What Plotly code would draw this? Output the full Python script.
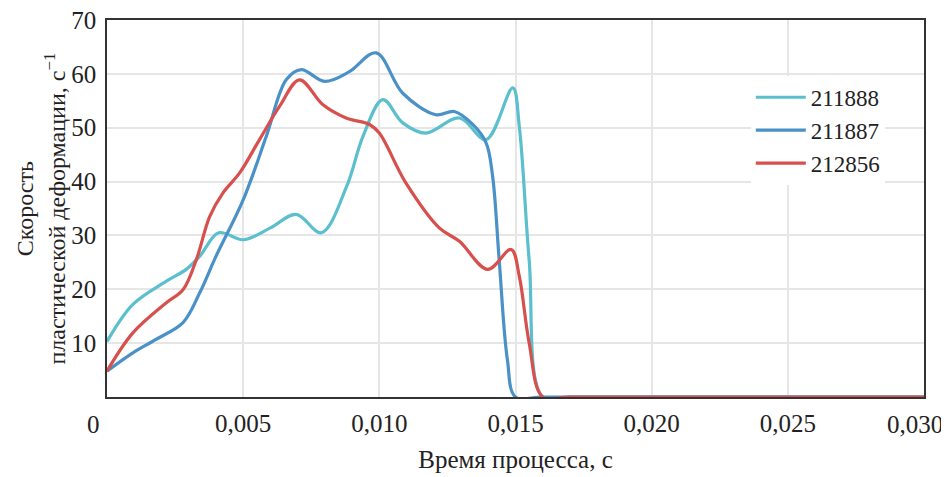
import plotly.graph_objects as go

# time, s
t_211888 = [0.0, 0.00095, 0.00218, 0.00291, 0.0034, 0.0041, 0.0050, 0.0060, 0.00695, 0.00787,
            0.0088, 0.0094, 0.01013, 0.01086, 0.0117, 0.01294, 0.01392, 0.0149, 0.01514, 0.0155,
            0.0160, 0.0170, 0.0300]
v_211888 = [10.3, 17.2, 21.5, 23.7, 26.1, 30.5, 29.2, 31.4, 33.9, 30.5,
            39.1, 48.4, 55.2, 50.9, 49.0, 51.8, 47.8, 57.4, 50.2, 25.5,
            0.0, 0.0, 0.0]

t_211887 = [0.0, 0.00095, 0.0018, 0.00279, 0.0034, 0.0040, 0.0050, 0.00585, 0.00658, 0.00713,
            0.00799, 0.0089, 0.00988, 0.01086, 0.01208, 0.01275, 0.01343, 0.01392, 0.01416, 0.0144,
            0.0147, 0.0150, 0.0160, 0.0300]
v_211887 = [4.8, 8.2, 10.7, 13.8, 19.3, 26.1, 36.6, 48.4, 58.9, 60.8,
            58.6, 60.4, 63.9, 56.4, 52.4, 53.0, 50.6, 47.2, 41.0, 25.5,
            7.0, 0.0, 0.0, 0.0]

t_212856 = [0.0, 0.00095, 0.00218, 0.00279, 0.00328, 0.00377, 0.00426, 0.00487, 0.0056, 0.00634,
            0.00707, 0.00792, 0.00878, 0.00964, 0.0100, 0.01098, 0.0122, 0.01294, 0.01398, 0.01484,
            0.01514, 0.0155, 0.0160, 0.0170, 0.0300]
v_212856 = [4.8, 11.9, 17.5, 19.9, 25.5, 33.5, 37.9, 41.6, 47.8, 54.0,
            58.9, 54.3, 51.8, 50.6, 49.0, 39.7, 31.4, 28.9, 23.7, 27.4,
            22.4, 10.1, 0.0, 0.0, 0.0]

series_names = ["211888", "211887", "212856"]
series_colors = ["#5bbfce", "#4a91c7", "#d7504d"]

x_tickvals = [0.005, 0.010, 0.015, 0.020, 0.025]
x_ticktext = ["0,005", "0,010", "0,015", "0,020", "0,025"]
x_end_val, x_end_text = 0.030, "0,030"
y_tickvals = [10, 20, 30, 40, 50, 60, 70]

FONT = "Liberation Serif, Times New Roman, serif"
TXT = "#222"

fig = go.Figure()
for t, v, name, col in zip([t_211888, t_211887, t_212856],
                           [v_211888, v_211887, v_212856],
                           series_names, series_colors):
    fig.add_trace(go.Scatter(x=t, y=v, name=name, mode="lines",
                             line=dict(color=col, width=3.2, shape="spline", smoothing=1.0)))

fig.update_layout(
    width=949, height=477,
    margin=dict(l=99, r=33, t=12, b=88, autoexpand=False),
    paper_bgcolor="white", plot_bgcolor="white",
    font=dict(family=FONT, size=25, color=TXT),
    showlegend=True,
    legend=dict(x=0.788, y=0.852, xanchor="left", yanchor="top",
                bgcolor="white", borderwidth=0, itemwidth=50,
                font=dict(family=FONT, size=23, color=TXT),
                tracegroupgap=0),
    xaxis=dict(range=[0, 0.030], tickvals=x_tickvals, ticktext=x_ticktext,
               automargin=False, ticklabeloverflow="allow",
               showgrid=True, gridcolor="#e6e6e6", gridwidth=2,
               showline=True, linecolor="#333", linewidth=1.5, mirror=True,
               ticks="outside", ticklen=3, tickcolor="rgba(0,0,0,0)",
               tickfont=dict(family=FONT, size=25, color=TXT),
               zeroline=False,
               title=dict(text="Время процесса, с", standoff=15,
                          font=dict(family=FONT, size=25, color=TXT))),
    yaxis=dict(range=[0, 70], tickvals=y_tickvals,
               automargin=False, ticklabeloverflow="allow",
               showgrid=True, gridcolor="#e6e6e6", gridwidth=2,
               showline=True, linecolor="#333", linewidth=1.5, mirror=True,
               ticks="outside", ticklen=4, tickcolor="rgba(0,0,0,0)",
               tickfont=dict(family=FONT, size=25, color=TXT),
               zeroline=False),
    annotations=[
        dict(text="0", x=0, y=0, xref="x", yref="y", showarrow=False,
             xanchor="center", yanchor="middle",
             xshift=-14, yshift=-27, font=dict(family=FONT, size=25, color=TXT)),
        dict(text=x_end_text, x=x_end_val, y=0, xref="x", yref="y", showarrow=False,
             xanchor="center", yanchor="middle",
             xshift=-9, yshift=-27, font=dict(family=FONT, size=25, color=TXT)),
        dict(text="Скорость<br>пластической деформации, с<sup>−1</sup>",
             x=-0.0808, y=0.5, xref="paper", yref="paper", showarrow=False,
             xanchor="center", yanchor="middle",
             textangle=-90, font=dict(family=FONT, size=24, color=TXT)),
    ],
)

fig.write_html("out.html")
